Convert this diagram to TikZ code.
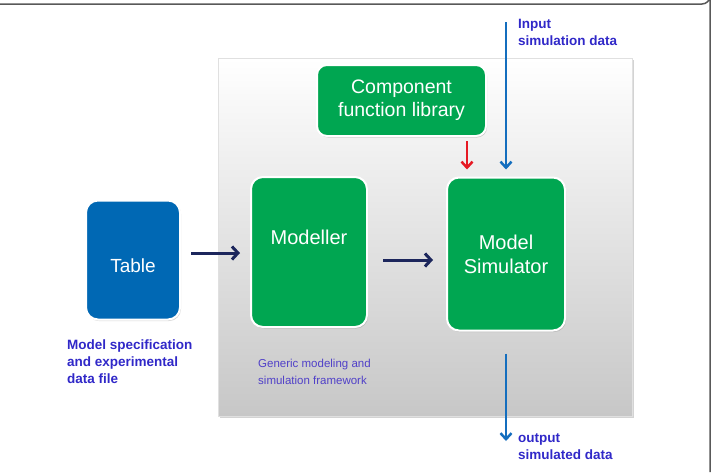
\documentclass[tikz,border=0pt]{standalone}
\usepackage{fontspec}
\setmainfont{Liberation Sans}
\usetikzlibrary{arrows.meta,shadows}

\definecolor{boxgreen}{RGB}{0,166,81}
\definecolor{boxblue}{RGB}{0,104,180}
\definecolor{navyarrow}{RGB}{28,38,92}
\definecolor{flowblue}{RGB}{20,110,190}
\definecolor{libred}{RGB}{230,25,35}
\definecolor{labelblue}{RGB}{48,40,200}
\definecolor{notepurple}{RGB}{80,64,200}

\begin{document}
\begin{tikzpicture}[x=1pt, y=-1pt,
  block/.style={rounded corners=12pt, draw=white, line width=2pt,
    fill=boxgreen, text=white, align=center, font=\fontsize{20}{24}\selectfont,
    drop shadow={shadow xshift=1pt, shadow yshift=-1.5pt, opacity=0.35}},
  mainflow/.style={navyarrow, line width=3pt,
    -{Straight Barb[length=6pt, width=13pt]}},
  dataflow/.style={flowblue, line width=2.5pt,
    -{Straight Barb[length=6pt, width=11pt]}},
  datalabel/.style={text=labelblue, align=left, anchor=west, inner sep=0pt,
    font=\bfseries\fontsize{13.5}{17}\selectfont}]
  \useasboundingbox (0,0) rectangle (714,472);

  % Frame of the figure
  \draw[black!65, line width=1.5pt] (0,4) -- (702,4) arc (90:0:8) -- (710,472);

  % Framework panel
  \node[draw=black!12, minimum width=414pt, minimum height=358pt,
    top color=white, middle color=black!4, bottom color=black!22,
    drop shadow={shadow xshift=2pt, shadow yshift=-2pt, opacity=0.35}]
    (panel) at (425,237) {};
  \node[text=notepurple, align=left, anchor=west, inner sep=0pt,
    font=\fontsize{11.5}{17}\selectfont] (panelnote) at (258,372)
    {Generic modeling and\\simulation framework};

  % Blocks
  \node[block, fill=boxblue, minimum width=94pt, minimum height=119pt,
    text height=25pt, font=\fontsize{19}{23}\selectfont] (table) at (133,260) {Table};
  \node[block, minimum width=116pt, minimum height=150pt] (modeller) at (309,252) {};
  \node[text=white, font=\fontsize{20}{24}\selectfont] (modellerlbl)
    at (309,237) {Modeller};
  \node[block, minimum width=118pt, minimum height=153pt] (sim) at (506,254)
    {Model\\Simulator};
  \node[block, rounded corners=10pt, minimum width=169pt, minimum height=71pt,
    font=\fontsize{19.5}{23}\selectfont] (lib) at (401.5,100.5)
    {Component\\function library};

  % Free ends of the data arrows
  \coordinate (simin) at (506,22);
  \coordinate (simout) at (506,441);

  % Arrows
  \draw[mainflow, shorten <=10pt, shorten >=10pt] (table.east |- 0,253)
    -- (modeller.west |- 0,253);
  \draw[mainflow, shorten <=15pt, shorten >=13pt] (modeller.east |- 0,260)
    -- (sim.west |- 0,260);
  \draw[libred, line width=2.5pt, -{Straight Barb[length=6pt, width=11pt]},
    shorten <=4pt, shorten >=7pt] ([xshift=-20pt]lib.south east)
    -- ([xshift=-20pt]lib.south east |- sim.north);
  \draw[dataflow, shorten >=7pt] (simin) -- (sim.north);
  \draw[dataflow, shorten <=22pt] (sim.south) -- (simout);

  % Labels
  \node[datalabel] (inlbl) at (518,32.5) {Input\\simulation data};
  \node[datalabel] (outlbl) at (518,447) {output\\simulated data};
  \node[datalabel] (speclbl) at (67,362)
    {Model specification\\and experimental\\data file};
\end{tikzpicture}
\end{document}
